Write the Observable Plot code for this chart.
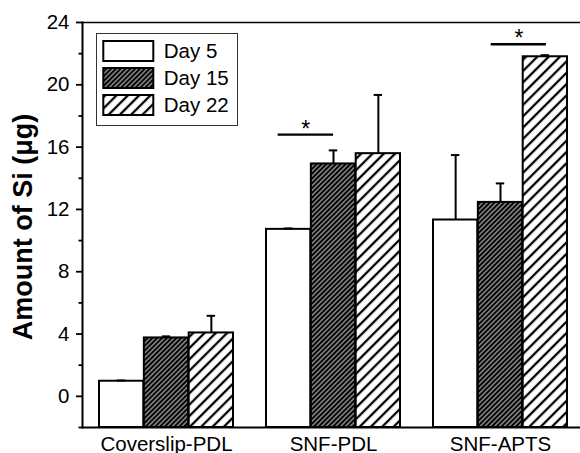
<!DOCTYPE html>
<html><head><meta charset="utf-8">
<script src="https://cdn.jsdelivr.net/npm/d3@7"></script>
<script src="https://cdn.jsdelivr.net/npm/@observablehq/plot@0.6"></script>
<style>
body{margin:0;background:#fff;}
#wrap{position:relative;width:580px;height:453px;overflow:hidden;}
#legend{position:absolute;left:95px;top:31.7px;}
</style></head><body>
<svg width="0" height="0" style="position:absolute">
<defs>
<pattern id="h15" patternUnits="userSpaceOnUse" width="3.4" height="3.4" patternTransform="rotate(45)">
<rect width="3.4" height="3.4" fill="#000"/>
<rect x="1.2" width="1" height="3.4" fill="#d0d0d0"/>
</pattern>
<pattern id="h22" patternUnits="userSpaceOnUse" width="8" height="8" patternTransform="rotate(45)">
<rect width="8" height="8" fill="#fff"/>
<rect x="2.9" width="2.3" height="8" fill="#000"/>
</pattern>
</defs></svg>
<div id="wrap"><div id="legend"></div></div>
<script>
const groups = ["Coverslip-PDL", "SNF-PDL", "SNF-APTS"];
const days = ["Day 5", "Day 15", "Day 22"];
const day5 = [0.97, 10.72, 11.32];
const day5Err = [0.05, 0.06, 4.17];
const day15 = [3.75, 14.92, 12.45];
const day15Err = [0.1, 0.87, 1.22];
const day22 = [4.07, 15.58, 21.8];
const day22Err = [1.1, 3.77, 0.1];
const yTicks = [0, 4, 8, 12, 16, 20, 24];
const yMinorTicks = [-2, 2, 6, 10, 14, 18, 22];
const sigGroups = ["SNF-PDL", "SNF-APTS"];
const sigY = [16.8, 22.6];
const yLabel = "Amount of Si (μg)";

const font = "'Liberation Sans', Arial, Helvetica, sans-serif";
const fills = ["#fff", "url(#h15)", "url(#h22)"];
const series = [day5, day15, day22];
const errs = [day5Err, day15Err, day22Err];
const rows = days.map((day, i) => groups.map((g, j) => ({group: g, day, value: series[i][j], err: errs[i][j]})));
const sig = sigGroups.map((g, i) => ({group: g, y: sigY[i]}));

const xRange = [82, 583.3], padIn = 0.198, padOut = 0.093;
const bw = d3.scaleBand(groups, xRange).paddingInner(padIn).paddingOuter(padOut).bandwidth();
const third = bw / 3, capW = 9;
const yMin = -2, yMax = 24;

const marks = [
  Plot.frame({anchor: "top", strokeWidth: 1.6}),
  Plot.frame({anchor: "left", strokeWidth: 2}),
  Plot.axisY({ticks: yTicks, tickSize: 6, tickPadding: 7, fontSize: 20.5, strokeWidth: 1.8, label: null}),
  Plot.axisY({ticks: yMinorTicks, tickSize: 3.5, tickFormat: () => "", strokeWidth: 1.8, label: null}),
  Plot.axisX({tickSize: 0, tickPadding: 8.5, fontSize: 20.5, label: null})
];
rows.forEach((data, i) => {
  marks.push(Plot.barY(data, {x: "group", y1: yMin, y2: "value", fill: fills[i], stroke: "#000", strokeWidth: 2,
    insetLeft: i * third, insetRight: (2 - i) * third}));
  marks.push(Plot.ruleX(data, {x: "group", y1: "value", y2: d => d.value + d.err, dx: (i - 1) * third, stroke: "#000", strokeWidth: 2}));
  marks.push(Plot.tickY(data, {x: "group", y: d => d.value + d.err, dx: (i - 1) * third,
    insetLeft: (bw - capW) / 2, insetRight: (bw - capW) / 2, stroke: "#000", strokeWidth: 2}));
});
marks.push(Plot.frame({anchor: "bottom", strokeWidth: 2}));
marks.push(Plot.ruleY([sig[0]], {x1: "group", x2: "group", y: "y", insetLeft: 11.6, insetRight: 66.9, strokeWidth: 2.4}));
marks.push(Plot.ruleY([sig[1]], {x1: "group", x2: "group", y: "y", insetLeft: 57.7, insetRight: 21.1, strokeWidth: 2.4}));
marks.push(Plot.text([sig[0]], {x: "group", y: "y", text: () => "*", dx: -27.7, dy: -5.5, fontSize: 23}));
marks.push(Plot.text([sig[1]], {x: "group", y: "y", text: () => "*", dx: 18.4, dy: -5.5, fontSize: 23}));
marks.push(Plot.text([yLabel], {frameAnchor: "left", textAnchor: "middle", text: d => d, rotate: -90, dx: -59, dy: 2, fontSize: 27, fontWeight: "bold"}));

const chart = Plot.plot({
  width: 580, height: 453, marginTop: 22, marginBottom: 26, marginLeft: 82, marginRight: 0,
  style: {fontFamily: font, color: "#000", background: "#fff"},
  x: {domain: groups, range: xRange, paddingInner: padIn, paddingOuter: padOut},
  y: {domain: [yMin, yMax]},
  marks
});
document.getElementById("wrap").insertBefore(chart, document.getElementById("legend"));

const legend = Plot.plot({
  width: 143, height: 94, margin: 1,
  style: {fontFamily: font, color: "#000", background: "transparent"},
  x: {domain: [0, 1], range: [8.3, 58.3], axis: null},
  y: {type: "band", domain: days, range: [1, 90.6], padding: 0.27, axis: null},
  marks: [
    Plot.frame({stroke: "#333", strokeWidth: 1}),
    ...days.map((day, i) => Plot.barX([day], {y: v => v, x1: 0, x2: 1, fill: fills[i], stroke: "#000", strokeWidth: 2})),
    Plot.text(days, {y: v => v, x: 1, text: v => v, dx: 10, textAnchor: "start", fontSize: 20.5})
  ]
});
document.getElementById("legend").appendChild(legend);
</script>
</body></html>
